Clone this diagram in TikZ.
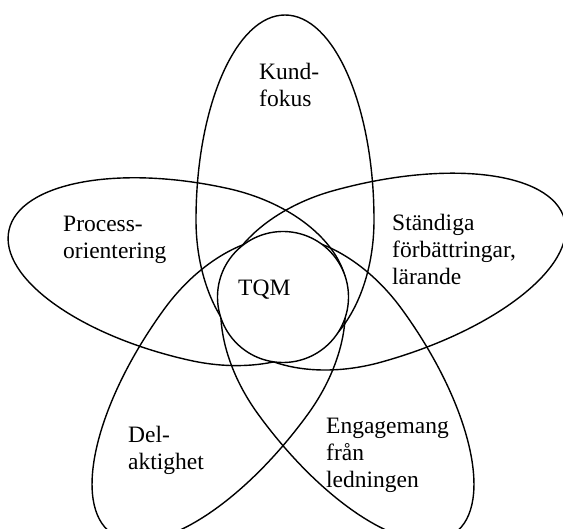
\documentclass[tikz,border=0pt]{standalone}
\usepackage{fontspec}
\setmainfont{Liberation Serif}
\newcommand\drawpetal[7]{% name, angle, d, L1, L2, W, sideways offset
  \begin{scope}[shift={(c)}, rotate=#2]
    \draw[petal] (#3,#7-#6) arc[start angle=-90,end angle=90,x radius=#4,y radius=#6]
      arc[start angle=90,end angle=270,x radius=#5,y radius=#6] -- cycle;
    \coordinate (#1) at (#3,#7);
  \end{scope}}
\begin{document}
\begin{tikzpicture}[x=1pt,y=1pt,
  petal/.style={line width=1.4pt},
  lbl/.style={anchor=base west, align=left, inner sep=0pt, font=\fontsize{23.5}{27}\selectfont}]
\useasboundingbox (0,0) rectangle (563,-529);
\clip (0,0) rectangle (563,-529);
\coordinate (c) at (283,-297);
\drawpetal{pkund}{90}{77}{205}{140}{89}{-2}
\drawpetal{pproc}{167.5}{77}{205}{140}{88}{-6}
\drawpetal{pstand}{15.5}{77}{215}{140}{89}{0}
\drawpetal{pdel}{234}{80}{212}{140}{89}{0}
\drawpetal{peng}{306}{80}{212}{140}{89}{0}
\node[circle, draw, fill=white, minimum size=131pt, inner sep=0pt, line width=1.4pt] (tqmc) at (c) {};
\node[lbl] (tqm) at (238,-296) {TQM};
\node[lbl] (kund) at (259,-107) {Kund-\\fokus};
\node[lbl] (proc) at (63,-259) {Process-\\orientering};
\node[lbl] (stand) at (392,-285) {Ständiga\\förbättringar,\\lärande};
\node[lbl] (del) at (128,-470) {Del-\\aktighet};
\node[lbl] (eng) at (326,-488) {Engagemang\\från\\ledningen};
\end{tikzpicture}
\end{document}
